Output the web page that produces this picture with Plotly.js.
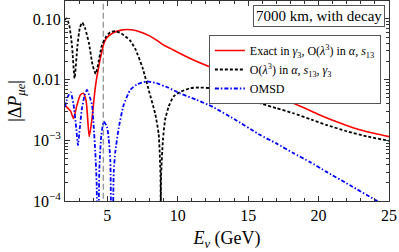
<!DOCTYPE html>
<html>
<head>
<meta charset="utf-8">
<script src="https://cdn.plot.ly/plotly-3.0.1.min.js"></script>
<style>html,body{margin:0;padding:0;background:#fff}#plot{width:399px;height:252px}</style>
</head>
<body>
<div id="plot"></div>
<script>
// Exact in gamma3, O(lambda^3) in alpha, s13
const E_exact = [2.0, 2.2, 2.4, 2.6, 2.85, 3.1, 3.3, 3.5, 3.72, 3.92, 4.05, 4.2, 4.4, 4.6, 4.8, 5.0, 5.5, 6.0, 6.4, 7.0, 7.5, 8.0, 8.5, 9.0, 9.5, 10, 11, 12, 13, 14, 15, 16, 17, 18, 19, 20, 21, 22, 23, 24, 25];
const dP_exact = [0.00372, 0.00339, 0.00302, 0.00229, 0.0038, 0.00562, 0.00596, 0.00447, 0.00115, 0.00229, 0.00457, 0.0089, 0.0166, 0.0282, 0.0417, 0.0501, 0.0603, 0.0653, 0.0668, 0.0646, 0.0589, 0.0525, 0.0447, 0.0372, 0.0324, 0.0282, 0.0216, 0.0172, 0.0141, 0.0112, 0.0089, 0.0069, 0.0055, 0.0043, 0.0034, 0.00266, 0.00214, 0.00176, 0.00148, 0.00129, 0.00115];

// O(lambda^3) in alpha, s13, gamma3
const E_approx = [2.0, 2.1, 2.3, 2.5, 2.68, 2.88, 3.05, 3.22, 3.42, 3.7, 3.95, 4.18, 4.35, 4.6, 4.9, 5.2, 5.55, 6.0, 6.6, 7.0, 7.5, 8.0, 8.4, 8.65, 8.78, 8.8, 8.82, 8.95, 9.1, 9.35, 9.7, 10.2, 10.9, 11.5, 12.3, 13, 14, 15, 16, 17, 18.2, 19.5, 20.6, 22, 23.5, 25];
const dP_approx = [0.0955, 0.102, 0.0794, 0.0355, 0.0105, 0.0355, 0.0708, 0.0871, 0.0708, 0.0398, 0.0178, 0.0124, 0.0178, 0.0355, 0.0501, 0.0603, 0.0631, 0.0575, 0.0447, 0.0316, 0.0158, 0.00603, 0.00275, 0.00126, 0.00025, 0.000001, 0.00025, 0.001, 0.00214, 0.00355, 0.00525, 0.0063, 0.00724, 0.00741, 0.00724, 0.0066, 0.00562, 0.00479, 0.00398, 0.00339, 0.00279, 0.00219, 0.00178, 0.00141, 0.00115, 0.00098];

// OMSD
const E_omsd = [2.0, 2.2, 2.4, 2.6, 2.8, 2.92, 3.05, 3.2, 3.4, 3.56, 3.75, 3.92, 4.03, 4.15, 4.25, 4.3, 4.44, 4.58, 4.75, 4.98, 5.1, 5.22, 5.33, 5.46, 5.57, 5.81, 6.16, 6.63, 7.1, 7.8, 8.5, 9.3, 10.16, 11.3, 12.5, 14, 15.84, 17, 18.2, 19.4, 20.57, 22.3, 24.0, 25];
const dP_omsd = [0.00355, 0.00525, 0.00617, 0.00398, 0.00158, 0.00083, 0.00158, 0.00331, 0.00562, 0.00676, 0.00525, 0.0038, 0.00178, 0.000646, 0.000182, 0.000001, 0.000347, 0.00123, 0.00204, 0.00166, 0.00107, 0.000447, 0.000001, 0.000302, 0.000646, 0.00158, 0.0038, 0.00676, 0.00832, 0.00933, 0.00871, 0.00741, 0.00594, 0.00468, 0.00355, 0.00224, 0.00123, 0.00089, 0.000617, 0.000437, 0.000302, 0.000178, 0.000105, 0.0000794];

// vertical reference energy (gray dashed line)
const E_ref = 4.72;

const xTickVals = [5, 10, 15, 20, 25];
const yTickVals = [0.0001, 0.001, 0.01, 0.1];
const yTickText = ['10<sup>−4</sup>', '10<sup>−3</sup>', '0.01', '0.10'];

const legendNames = [
  'Exact in <i>γ</i><sub>3</sub>, O(<i>λ</i><sup>3</sup>) in <i>α</i>, <i>s</i><sub>13</sub>',
  'O(<i>λ</i><sup>3</sup>) in <i>α</i>, <i>s</i><sub>13</sub>, <i>γ</i><sub>3</sub>',
  'OMSD'
];

const FONT = '"Liberation Serif", "Times New Roman", serif';

const traces = [
  {x: [E_ref, E_ref], y: [0.00001, 1], mode: 'lines', showlegend: false, hoverinfo: 'skip',
   line: {color: '#9a9a9a', width: 1.4, dash: '6px,3px'}},
  {x: E_exact, y: dP_exact, name: legendNames[0], mode: 'lines',
   line: {color: '#ff0000', width: 1.6, shape: 'spline', smoothing: 0.6}},
  {x: E_approx, y: dP_approx, name: legendNames[1], mode: 'lines',
   line: {color: '#000000', width: 1.8, dash: '3px,2px', shape: 'spline', smoothing: 0.5}},
  {x: E_omsd, y: dP_omsd, name: legendNames[2], mode: 'lines',
   line: {color: '#0000ff', width: 1.8, dash: '4px,2px,1.5px,2px', shape: 'spline', smoothing: 0.5}}
];

const layout = {
  width: 399, height: 252,
  margin: {l: 65, r: 10, t: 1, b: 51},
  paper_bgcolor: '#fff', plot_bgcolor: '#fff',
  font: {family: FONT, size: 16, color: '#000'},
  showlegend: true,
  xaxis: {
    range: [2, 25], tickmode: 'array', tickvals: xTickVals,
    ticks: 'inside', ticklen: 5, tickwidth: 1, tickcolor: '#333',
    showline: true, linecolor: '#333', linewidth: 1, mirror: 'allticks',
    showgrid: false, zeroline: false,
    minor: {dtick: 1, ticks: 'inside', ticklen: 3, tickcolor: '#333', showgrid: false},
    tickfont: {family: FONT, size: 16},
    title: {text: '<i>E</i><sub><i>ν</i></sub> (GeV)', font: {family: FONT, size: 18}, standoff: 8}
  },
  yaxis: {
    type: 'log', range: [-4, -0.705], tickmode: 'array', tickvals: yTickVals, ticktext: yTickText,
    ticks: 'inside', ticklen: 5, tickwidth: 1, tickcolor: '#333',
    showline: true, linecolor: '#333', linewidth: 1, mirror: 'allticks',
    showgrid: false, zeroline: false,
    minor: {dtick: 'D1', ticks: 'inside', ticklen: 3, tickcolor: '#333', showgrid: false},
    tickfont: {family: FONT, size: 16},
    title: {text: '|Δ<i>P</i><sub><i>μe</i></sub>|', font: {family: FONT, size: 18}, standoff: 6}
  },
  legend: {
    x: 0.444, y: 0.83, xanchor: 'left', yanchor: 'top',
    bgcolor: '#fff', bordercolor: '#555', borderwidth: 1,
    font: {family: FONT, size: 12}, itemwidth: 30, tracegroupgap: 0
  },
  annotations: [{
    xref: 'paper', yref: 'paper', x: 0.988, y: 0.98, xanchor: 'right', yanchor: 'top',
    text: '7000 km, with decay', showarrow: false,
    font: {family: FONT, size: 15, color: '#000'},
    bgcolor: '#fff', bordercolor: '#555', borderwidth: 1, borderpad: 2
  }]
};

Plotly.newPlot('plot', traces, layout, {staticPlot: true, displayModeBar: false});
</script>
</body>
</html>
